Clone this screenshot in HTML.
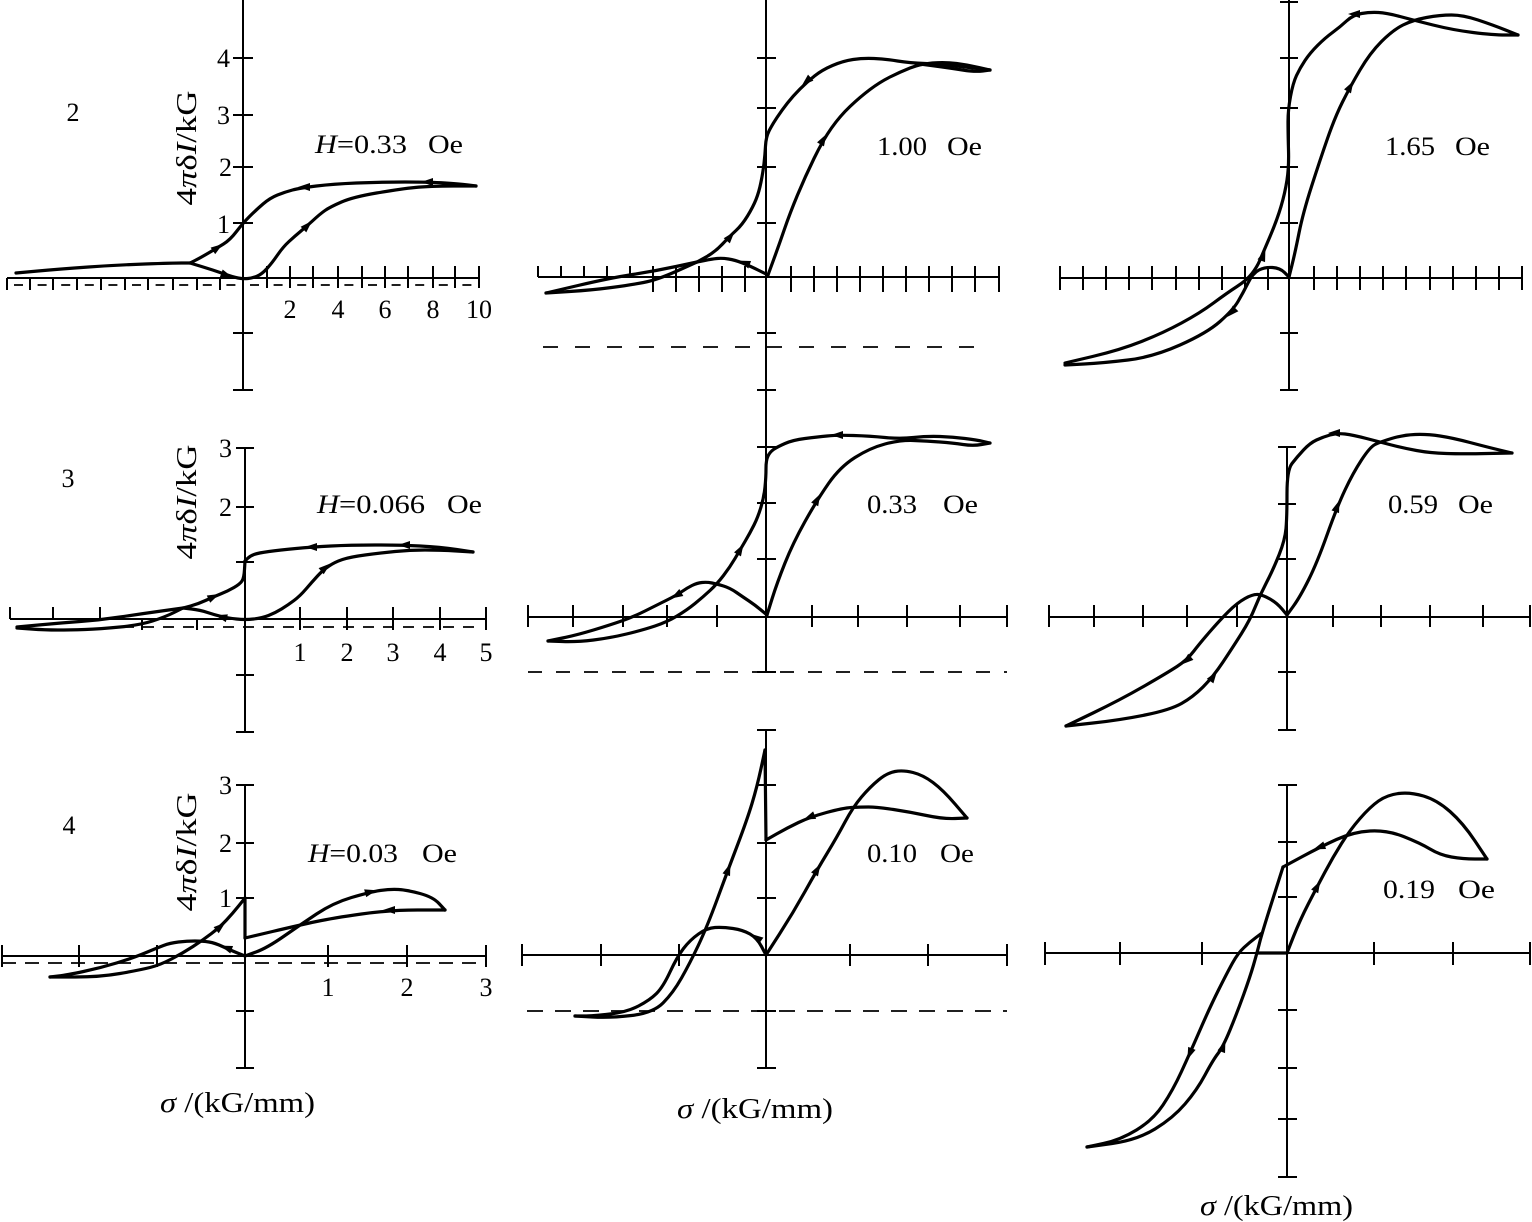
<!DOCTYPE html>
<html><head><meta charset="utf-8"><style>
html,body{margin:0;padding:0;background:#fff;}
svg{display:block;}
text{font-family:"Liberation Serif","Times New Roman",serif;fill:#000;}
</style></head><body>
<svg id="fig" width="1532" height="1222" viewBox="0 0 1532 1222" xmlns="http://www.w3.org/2000/svg">
<rect width="1532" height="1222" fill="#fff"/>

<!-- ============ AXES ============ -->
<g stroke="#000" stroke-width="2" fill="none">
<!-- Panel 1 -->
<line x1="243" y1="0" x2="243" y2="390"/>
<path d="M233 58H253M233 115H253M233 167H253M233 223H253M233 333H253M233 390H253"/>
<line x1="7" y1="278" x2="479" y2="278"/>
<path d="M7 278V290M30 278V290M53 278V290M77 278V290M101 278V290M125 278V290M148 278V290M173 278V290M197 278V290M220 278V290
M267 266V288M290 266V288M313 266V288M338 266V288M362 266V288M385 266V288M408 266V288M433 266V288M455 266V288M479 266V288"/>
<!-- Panel 4 -->
<line x1="245" y1="448" x2="245" y2="732"/>
<path d="M236 448H254M236 507H254M236 562H254M236 675H254M236 732H254"/>
<line x1="10" y1="619" x2="486" y2="619"/>
<path d="M10 607V619M53 607V619M100 607V619M142 619V630M197 619V630M300 607V630M347 607V630M393 607V630M440 607V630M486 607V630"/>
<!-- Panel 7 -->
<line x1="245" y1="785" x2="245" y2="1068"/>
<path d="M236 785H254M236 843H254M236 898H254M236 1011H254M236 1068H254"/>
<line x1="2" y1="956" x2="486" y2="956"/>
<path d="M2 945V967M79 945V967M157 945V967M328 945V967M407 945V967M486 945V967"/>

<!-- Middle column -->
<line x1="766" y1="0" x2="766" y2="672"/>
<path d="M757 58H776M757 108H776M757 167H776M757 223H776M757 333H776M757 390H776M757 447H776M757 503H776M757 559H776M757 672H776"/>
<line x1="538" y1="277" x2="999" y2="277"/>
<path d="M538 266V277M561 266V277M584 266V277M607 266V277M630 266V277
M653 266V292M676 266V292M699 266V292M722 266V292M745 266V292
M791 266V292M814 266V292M837 266V292M860 266V292M883 266V292M906 266V292M929 266V292M952 266V292M975 266V292M999 266V292"/>
<line x1="528" y1="617" x2="1007" y2="617"/>
<path d="M528 605V627M573 605V627M623 605V627M667 605V627M717 605V627M812 605V627M858 605V627M907 605V627M960 605V627M1007 605V627"/>
<line x1="766" y1="730" x2="766" y2="1068"/>
<path d="M757 730H776M757 785H776M757 843H776M757 898H776M757 1011H776M757 1068H776"/>
<line x1="522" y1="955" x2="1007" y2="955"/>
<path d="M522 944V966M601 944V966M679 944V966M850 944V966M928 944V966M1007 944V966"/>

<!-- Panel 3 -->
<line x1="1289" y1="0" x2="1289" y2="390"/>
<path d="M1280 2H1298M1280 58H1298M1280 108H1298M1280 167H1298M1280 223H1298M1280 333H1298M1280 390H1298"/>
<line x1="1060" y1="278" x2="1522" y2="278"/>
<path d="M1060 266V290M1083 266V290M1106 266V290M1129 266V290M1152 266V290M1176 266V290M1199 266V290M1222 266V290M1245 266V290M1268 266V290
M1314 266V290M1337 266V290M1360 266V290M1383 266V290M1406 266V290M1430 266V290M1453 266V290M1476 266V290M1499 266V290M1522 266V290"/>
<!-- Panel 6 -->
<line x1="1287" y1="447" x2="1287" y2="730"/>
<path d="M1278 447H1296M1278 504H1296M1278 559H1296M1278 672H1296M1278 730H1296"/>
<line x1="1049" y1="617" x2="1530" y2="617"/>
<path d="M1049 605V627M1094 605V627M1143 605V627M1187 605V627M1237 605V627M1333 605V627M1381 605V627M1430 605V627M1483 605V627M1530 605V627"/>
<!-- Panel 9 -->
<line x1="1287" y1="785" x2="1287" y2="1177"/>
<path d="M1278 785H1297M1278 842H1297M1278 897H1297M1278 1010H1297M1278 1068H1297M1278 1119H1297M1278 1177H1297"/>
<line x1="1045" y1="953" x2="1530" y2="953"/>
<path d="M1045 942V965M1120 942V965M1202 942V965M1374 942V965M1453 942V965M1530 942V965"/>
</g>

<!-- ============ DASHED LINES ============ -->
<g stroke="#000" stroke-width="1.8" fill="none">
<line x1="14" y1="285" x2="479" y2="285" stroke-dasharray="9 14.6"/>
<line x1="543" y1="347" x2="988" y2="347" stroke-dasharray="15 17"/>
<line x1="123" y1="627" x2="480" y2="627" stroke-dasharray="11 9"/>
<line x1="528" y1="672" x2="1007" y2="672" stroke-dasharray="14 14"/>
<line x1="2" y1="963" x2="483" y2="963" stroke-dasharray="14 9"/>
<line x1="527" y1="1011" x2="1007" y2="1011" stroke-dasharray="16 12"/>
</g>

<!-- ============ CURVES ============ -->
<g stroke="#000" stroke-width="3.2" fill="none" stroke-linejoin="round" stroke-linecap="round">
<!-- Panel 1 -->
<path class="s" d="M16 273L60 269L117 265L173 263L190 263"/>
<path class="s" d="M190 263L200 258L217 248L230 240L243 223L256 210L270 198L285 192L300 188L333 184L380 182L430 182L460 184L476 186"/>
<path class="s" d="M190 263L213 270L233 277L243 279L253 278L262 274L272 263L283 247L295 236L307 226L320 214L330 207L353 197L400 189L430 186L476 186"/>
<!-- Panel 2 -->
<path class="s" d="M546 293L610 278L655 271L697 262"/>
<path class="s" d="M546 293L593 290L630 285L657 280L697 262"/>
<path class="s" d="M697 262L712 259L722 258L735 260L750 266L768 275"/>
<path class="s" d="M697 262L715 252L730 236L742 225L753 207L759 192L763 172L765 155L766 137L772 125L782 110L793 96L807 82L822 70L843 61L863 58L885 59L910 63L940 64L965 67L990 70"/>
<path class="s" d="M768 275L779 245L790 213L805 177L823 140L840 116L860 97L880 82L900 72L920 64L945 62L968 65L990 70"/>
<path class="s" d="M920 64L950 68L975 72L990 70"/>
<!-- Panel 3 -->
<path class="s" d="M1289 277L1280 268L1265 267L1253 273L1243 293L1233 310L1207 333L1153 357L1103 363L1065 365"/>
<path class="s" d="M1065 363L1120 350L1163 333L1200 313L1227 293L1247 280L1257 267L1263 253L1277 220L1285 193L1289 167L1288 133L1288 110L1293 83L1300 68L1310 53L1325 38L1340 27L1353 15L1370 12L1387 13L1413 20L1453 30L1493 35L1518 35"/>
<path class="s" d="M1289 277L1295 253L1303 213L1320 160L1335 117L1350 87L1370 53L1393 30L1413 20L1440 15L1463 15L1493 25L1518 35"/>
<!-- Panel 4 -->
<path class="s" d="M17 627L60 623L100 620L140 614L183 608"/>
<path class="s" d="M17 628L45 630L70 630L100 629L140 625L165 617L183 608"/>
<path class="s" d="M183 608L200 610L215 615L228 618L245 620L262 618L275 613L288 605L300 596L312 582L323 570L335 562L350 557L380 553L410 550L440 550L473 552"/>
<path class="s" d="M183 608L198 604L213 597L228 591L240 584L244 578L245 561"/>
<path class="s" d="M245 561L250 556L258 553L280 550L312 547L350 545L400 545L440 547L473 552"/>
<!-- Panel 5 -->
<path class="s" d="M767 615L755 605L743 597L730 588L717 584L707 582L697 583L687 588L677 595L657 605L633 617L610 625L577 635L548 641"/>
<path class="s" d="M548 641L577 642L610 638L643 630L667 622L687 610L703 597L717 584L730 567L740 550L750 533L758 517L764 497L766 477L766 460L770 452L777 447L793 440L817 437L837 435L870 436L900 439L927 436L953 437L977 440L990 443"/>
<path class="s" d="M767 615L777 583L793 543L817 500L840 467L870 448L900 440L927 441L953 443L973 446L990 443"/>
<!-- Panel 6 -->
<path class="s" d="M1287 615L1277 603L1263 595L1253 594L1237 603L1220 620L1200 643L1187 660L1167 673L1120 700L1066 726"/>
<path class="s" d="M1066 726L1120 720L1170 710L1193 697L1213 677L1233 647L1250 620L1260 595L1273 570L1285 540L1287 517L1287 470L1297 457L1310 443L1323 437L1337 433L1353 435L1380 442L1403 448L1430 453L1463 454L1512 453"/>
<path class="s" d="M1287 615L1300 597L1317 563L1337 507L1353 473L1370 447L1380 442L1403 435L1427 434L1453 438L1487 447L1512 453"/>
<!-- Panel 7 -->
<path d="M245 898L245 938"/>
<path class="s" d="M245 938L300 925L333 918L390 910L445 910"/>
<path class="s" d="M445 910L433 897L407 890L390 889L370 892L333 903L300 925L267 948L245 956"/>
<path class="s" d="M245 956L230 950L215 943L203 941L187 941L170 943L157 948L133 958L100 968L67 975L50 977"/>
<path class="s" d="M50 977L100 977L140 970L160 965L183 953L203 940L220 927L233 913L245 898"/>
<!-- Panel 8 -->
<path class="s" d="M575 1016L610 1018L653 1013L673 993L690 963L707 927L728 870L747 820L757 787L765 750"/>
<path d="M765 750L766 840"/>
<path class="s" d="M766 840L787 828L810 817L843 808L860 807L877 807L910 812L943 819L967 818"/>
<path class="s" d="M766 955L793 913L817 870L837 837L853 807L870 787L887 773L903 770L923 775L943 790L967 818"/>
<path class="s" d="M766 955L757 938L743 930L723 927L707 928L690 940L677 957L663 987L650 1000L627 1012L593 1016L575 1016"/>
<!-- Panel 9 -->
<path class="s" d="M1262 933L1250 942L1238 953L1227 973L1210 1007L1190 1053L1173 1090L1153 1120L1120 1140L1087 1147"/>
<path class="s" d="M1087 1147L1137 1140L1173 1118L1197 1090L1213 1060L1223 1047L1237 1013L1250 977L1257 953L1262 933L1283 867"/>
<path d="M1258 953L1287 953"/>
<path class="s" d="M1287 953L1300 920L1317 887L1333 857L1350 830L1370 807L1387 795L1410 792L1437 800L1463 823L1487 859"/>
<path class="s" d="M1487 859L1463 859L1440 855L1420 843L1387 830L1353 832L1320 847L1283 867"/>
</g>

<!-- ============ ARROWS ============ -->
<g fill="#000" stroke="none">
<polygon points="7,0 -5,-4 -5,4" transform="translate(217,248) rotate(-35)"/>
<polygon points="7,0 -5,-4 -5,4" transform="translate(226,275) rotate(20)"/>
<polygon points="7,0 -5,-4 -5,4" transform="translate(307,226) rotate(-45)"/>
<polygon points="7,0 -5,-4 -5,4" transform="translate(305,187) rotate(180)"/>
<polygon points="7,0 -5,-4 -5,4" transform="translate(428,182) rotate(180)"/>
<polygon points="7,0 -5,-4 -5,4" transform="translate(730,237) rotate(-50)"/>
<polygon points="7,0 -5,-4 -5,4" transform="translate(745,263) rotate(200)"/>
<polygon points="7,0 -5,-4 -5,4" transform="translate(807,81) rotate(138)"/>
<polygon points="7,0 -5,-4 -5,4" transform="translate(823,140) rotate(-60)"/>
<polygon points="7,0 -5,-4 -5,4" transform="translate(1263,256) rotate(-70)"/>
<polygon points="7,0 -5,-4 -5,4" transform="translate(1232,312) rotate(135)"/>
<polygon points="7,0 -5,-4 -5,4" transform="translate(1350,87) rotate(-60)"/>
<polygon points="7,0 -5,-4 -5,4" transform="translate(1355,14) rotate(180)"/>
<polygon points="7,0 -5,-4 -5,4" transform="translate(213,597) rotate(-25)"/>
<polygon points="7,0 -5,-4 -5,4" transform="translate(222,617) rotate(195)"/>
<polygon points="7,0 -5,-4 -5,4" transform="translate(325,568) rotate(-40)"/>
<polygon points="7,0 -5,-4 -5,4" transform="translate(312,547) rotate(180)"/>
<polygon points="7,0 -5,-4 -5,4" transform="translate(405,545) rotate(180)"/>
<polygon points="7,0 -5,-4 -5,4" transform="translate(677,595) rotate(150)"/>
<polygon points="7,0 -5,-4 -5,4" transform="translate(740,550) rotate(-60)"/>
<polygon points="7,0 -5,-4 -5,4" transform="translate(817,500) rotate(-62)"/>
<polygon points="7,0 -5,-4 -5,4" transform="translate(838,435) rotate(180)"/>
<polygon points="7,0 -5,-4 -5,4" transform="translate(1187,660) rotate(140)"/>
<polygon points="7,0 -5,-4 -5,4" transform="translate(1213,677) rotate(-55)"/>
<polygon points="7,0 -5,-4 -5,4" transform="translate(1337,507) rotate(-70)"/>
<polygon points="7,0 -5,-4 -5,4" transform="translate(1335,433) rotate(180)"/>
<polygon points="7,0 -5,-4 -5,4" transform="translate(220,927) rotate(-40)"/>
<polygon points="7,0 -5,-4 -5,4" transform="translate(227,948) rotate(200)"/>
<polygon points="7,0 -5,-4 -5,4" transform="translate(370,892) rotate(-15)"/>
<polygon points="7,0 -5,-4 -5,4" transform="translate(390,910) rotate(180)"/>
<polygon points="7,0 -5,-4 -5,4" transform="translate(728,870) rotate(-70)"/>
<polygon points="7,0 -5,-4 -5,4" transform="translate(757,938) rotate(215)"/>
<polygon points="7,0 -5,-4 -5,4" transform="translate(810,817) rotate(158)"/>
<polygon points="7,0 -5,-4 -5,4" transform="translate(817,870) rotate(-60)"/>
<polygon points="7,0 -5,-4 -5,4" transform="translate(1190,1053) rotate(112)"/>
<polygon points="7,0 -5,-4 -5,4" transform="translate(1223,1047) rotate(-70)"/>
<polygon points="7,0 -5,-4 -5,4" transform="translate(1317,887) rotate(-62)"/>
<polygon points="7,0 -5,-4 -5,4" transform="translate(1320,847) rotate(160)"/>
</g>

<!-- ============ TEXT ============ -->
<g font-size="26">
<text x="73" y="121" text-anchor="middle">2</text>
<text x="68" y="487" text-anchor="middle">3</text>
<text x="69" y="834" text-anchor="middle">4</text>

<text x="230" y="67" text-anchor="end">4</text>
<text x="230" y="124" text-anchor="end">3</text>
<text x="232" y="176" text-anchor="end">2</text>
<text x="230" y="233" text-anchor="end">1</text>
<text x="232" y="457" text-anchor="end">3</text>
<text x="232" y="516" text-anchor="end">2</text>
<text x="232" y="794" text-anchor="end">3</text>
<text x="232" y="852" text-anchor="end">2</text>
<text x="232" y="907" text-anchor="end">1</text>

<text x="290" y="318" text-anchor="middle">2</text>
<text x="338" y="318" text-anchor="middle">4</text>
<text x="385" y="318" text-anchor="middle">6</text>
<text x="433" y="318" text-anchor="middle">8</text>
<text x="479" y="318" text-anchor="middle">10</text>
<text x="300" y="661" text-anchor="middle">1</text>
<text x="347" y="661" text-anchor="middle">2</text>
<text x="393" y="661" text-anchor="middle">3</text>
<text x="440" y="661" text-anchor="middle">4</text>
<text x="486" y="661" text-anchor="middle">5</text>
<text x="328" y="996" text-anchor="middle">1</text>
<text x="407" y="996" text-anchor="middle">2</text>
<text x="486" y="996" text-anchor="middle">3</text>

<text transform="translate(196,148) rotate(-90)" text-anchor="middle" font-size="28" textLength="115" lengthAdjust="spacingAndGlyphs">4<tspan font-style="italic">π</tspan>δ<tspan font-style="italic">I</tspan>/kG</text>
<text transform="translate(196,502) rotate(-90)" text-anchor="middle" font-size="28" textLength="115" lengthAdjust="spacingAndGlyphs">4<tspan font-style="italic">π</tspan>δ<tspan font-style="italic">I</tspan>/kG</text>
<text transform="translate(196,852) rotate(-90)" text-anchor="middle" font-size="28" textLength="119" lengthAdjust="spacingAndGlyphs">4<tspan font-style="italic">π</tspan>δ<tspan font-style="italic">I</tspan>/kG</text>

<text x="315" y="153" textLength="92" lengthAdjust="spacingAndGlyphs"><tspan font-style="italic">H</tspan>=0.33</text>
<text x="428" y="153" textLength="35" lengthAdjust="spacingAndGlyphs">Oe</text>
<text x="877" y="155" textLength="50" lengthAdjust="spacingAndGlyphs">1.00</text>
<text x="947" y="155" textLength="35" lengthAdjust="spacingAndGlyphs">Oe</text>
<text x="1385" y="155" textLength="50" lengthAdjust="spacingAndGlyphs">1.65</text>
<text x="1455" y="155" textLength="35" lengthAdjust="spacingAndGlyphs">Oe</text>

<text x="317" y="513" textLength="108" lengthAdjust="spacingAndGlyphs"><tspan font-style="italic">H</tspan>=0.066</text>
<text x="447" y="513" textLength="35" lengthAdjust="spacingAndGlyphs">Oe</text>
<text x="867" y="513" textLength="50" lengthAdjust="spacingAndGlyphs">0.33</text>
<text x="943" y="513" textLength="35" lengthAdjust="spacingAndGlyphs">Oe</text>
<text x="1388" y="513" textLength="50" lengthAdjust="spacingAndGlyphs">0.59</text>
<text x="1458" y="513" textLength="35" lengthAdjust="spacingAndGlyphs">Oe</text>

<text x="308" y="862" textLength="90" lengthAdjust="spacingAndGlyphs"><tspan font-style="italic">H</tspan>=0.03</text>
<text x="422" y="862" textLength="35" lengthAdjust="spacingAndGlyphs">Oe</text>
<text x="867" y="862" textLength="50" lengthAdjust="spacingAndGlyphs">0.10</text>
<text x="940" y="862" textLength="34" lengthAdjust="spacingAndGlyphs">Oe</text>
<text x="1383" y="898" textLength="52" lengthAdjust="spacingAndGlyphs">0.19</text>
<text x="1458" y="898" textLength="37" lengthAdjust="spacingAndGlyphs">Oe</text>

<text x="160" y="1112" font-size="28" textLength="155" lengthAdjust="spacingAndGlyphs"><tspan font-style="italic">σ</tspan> /(kG/mm)</text>
<text x="677" y="1118" font-size="28" textLength="156" lengthAdjust="spacingAndGlyphs"><tspan font-style="italic">σ</tspan> /(kG/mm)</text>
<text x="1200" y="1215" font-size="28" textLength="153" lengthAdjust="spacingAndGlyphs"><tspan font-style="italic">σ</tspan> /(kG/mm)</text>
</g>
</svg>
<script>
(function(){
  var ps=document.querySelectorAll('path.s');
  for(var k=0;k<ps.length;k++){
    var p=ps[k];
    var n=p.getAttribute('d').match(/-?[\d.]+/g).map(Number);
    var pts=[];
    for(var i=0;i+1<n.length;i+=2)pts.push([n[i],n[i+1]]);
    if(pts.length<3)continue;
    var mid=function(a,b){return ((a[0]+b[0])/2)+' '+((a[1]+b[1])/2);};
    var d='M'+pts[0][0]+' '+pts[0][1]+' L'+mid(pts[0],pts[1]);
    for(var j=1;j<pts.length-1;j++){
      d+=' Q'+pts[j][0]+' '+pts[j][1]+' '+mid(pts[j],pts[j+1]);
    }
    d+=' L'+pts[pts.length-1][0]+' '+pts[pts.length-1][1];
    p.setAttribute('d',d);
  }
})();
</script>
</body></html>
